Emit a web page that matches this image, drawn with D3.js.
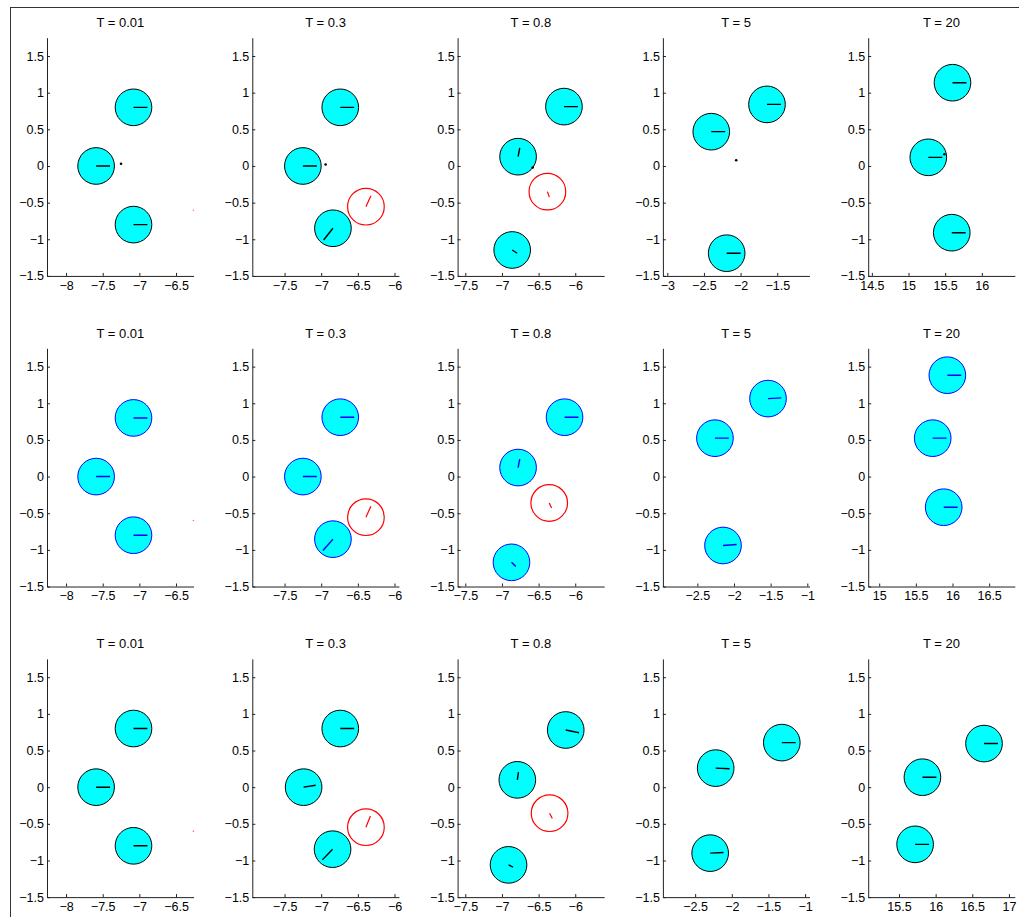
<!DOCTYPE html>
<html><head><meta charset="utf-8">
<script src="https://cdn.jsdelivr.net/npm/d3@7"></script>
<style>
body{margin:0;background:#fff}
svg{display:block}
text{font-family:"Liberation Sans",Arial,Helvetica,sans-serif;fill:#000}
</style>
</head><body><svg id="chart" width="1019" height="917"></svg>
<script>
// ---------- data ----------
const titles = ["T = 0.01", "T = 0.3", "T = 0.8", "T = 5", "T = 20"];
const yDomain = [-1.5, 1.75];
const yTicks = [-1.5, -1, -0.5, 0, 0.5, 1, 1.5];

const xDomainsRow1 = [[-8.26, -6.26], [-7.94, -5.94], [-7.605, -5.605], [-3.06, -1.06], [14.45, 16.45]];
const xDomainsRow2 = [[-8.26, -6.26], [-7.94, -5.94], [-7.605, -5.605], [-2.97, -0.97], [14.85, 16.85]];
const xDomainsRow3 = [[-8.26, -6.26], [-7.94, -5.94], [-7.605, -5.605], [-2.94, -0.94], [15.08, 17.08]];

const xTicksRow1 = [[-8, -7.5, -7, -6.5], [-7.5, -7, -6.5, -6], [-7.5, -7, -6.5, -6], [-3, -2.5, -2, -1.5], [14.5, 15, 15.5, 16]];
const xTicksRow2 = [[-8, -7.5, -7, -6.5], [-7.5, -7, -6.5, -6], [-7.5, -7, -6.5, -6], [-2.5, -2, -1.5, -1], [15, 15.5, 16, 16.5]];
const xTicksRow3 = [[-8, -7.5, -7, -6.5], [-7.5, -7, -6.5, -6], [-7.5, -7, -6.5, -6], [-2.5, -2, -1.5, -1], [15.5, 16, 16.5, 17]];

// agents: [x, y, headingX, headingY]
const agentsRow1 = [
  [[-7.08, 0.80, 0.19, 0], [-7.59, 0, 0.19, 0], [-7.08, -0.80, 0.19, 0]],
  [[-6.74, 0.80, 0.19, 0], [-7.25, 0, 0.19, 0], [-6.84, -0.85, -0.127, -0.16]],
  [[-6.154, 0.81, 0.19, 0], [-6.78, 0.127, 0.023, 0.119], [-6.86, -1.146, 0.068, -0.045]],
  [[-1.64, 0.84, 0.19, 0], [-2.40, 0.468, 0.19, 0], [-2.19, -1.19, 0.19, 0]],
  [[15.60, 1.136, 0.19, 0], [15.27, 0.118, 0.19, 0], [15.59, -0.91, 0.19, 0]]
];
const agentsRow2 = [
  [[-7.08, 0.80, 0.19, 0], [-7.59, 0, 0.19, 0], [-7.08, -0.80, 0.19, 0]],
  [[-6.74, 0.81, 0.19, 0], [-7.25, 0, 0.19, 0], [-6.84, -0.854, -0.136, -0.155]],
  [[-6.146, 0.81, 0.19, 0], [-6.78, 0.123, 0.023, 0.114], [-6.87, -1.17, 0.059, -0.055]],
  [[-1.536, 1.064, 0.182, 0.009], [-2.26, 0.524, 0.19, 0], [-2.15, -0.94, 0.186, 0.014]],
  [[15.93, 1.383, 0.19, 0], [15.73, 0.524, 0.19, 0], [15.88, -0.418, 0.19, 0]]
];
const agentsRow3 = [
  [[-7.08, 0.80, 0.19, 0], [-7.59, 0, 0.19, 0], [-7.08, -0.80, 0.19, 0]],
  [[-6.74, 0.80, 0.19, 0], [-7.24, 0, 0.164, 0.027], [-6.845, -0.846, -0.139, -0.146]],
  [[-6.13, 0.78, 0.181, -0.037], [-6.79, 0.10, 0.015, 0.105], [-6.91, -1.06, 0.061, -0.031]],
  [[-1.318, 0.608, 0.19, 0], [-2.22, 0.26, 0.19, -0.009], [-2.295, -0.90, 0.182, 0.009]],
  [[16.66, 0.595, 0.19, 0], [15.82, 0.136, 0.19, 0], [15.72, -0.78, 0.19, 0]]
];

// target (red circle): [x, y, headingX, headingY] or null
const targetsRow1 = [null, [-6.39, -0.555, 0.068, 0.15], [-6.38, -0.35, 0.027, -0.075], null, null];
const targetsRow2 = [null, [-6.39, -0.554, 0.068, 0.15], [-6.355, -0.36, 0.032, -0.068], null, null];
const targetsRow3 = [null, [-6.39, -0.546, 0.061, 0.154], [-6.35, -0.355, 0.037, -0.072], null, null];

// faint red marker at the plot edge (first column): [x, y]
const edgeMarks = [[-6.262, -0.605], [-6.262, -0.60], [-6.262, -0.60]];

// small black points (row 1 only): [x, y]
const pointsRow1 = [[-7.25, 0.03], [-6.94, 0.02], [-6.58, -0.02], [-2.06, 0.078], [15.49, 0.16]];

const agentRadius = 0.25;

// ---------- layout ----------
const rows = [
  {domains: xDomainsRow1, ticks: xTicksRow1, agents: agentsRow1, targets: targetsRow1, points: pointsRow1, color: "#000000"},
  {domains: xDomainsRow2, ticks: xTicksRow2, agents: agentsRow2, targets: targetsRow2, points: null, color: "#0000ff"},
  {domains: xDomainsRow3, ticks: xTicksRow3, agents: agentsRow3, targets: targetsRow3, points: null, color: "#000000"}
];

const svg = d3.select("#chart");
const unitPx = 73.3;
const plotW = 2 * unitPx;
const plotH = (yDomain[1] - yDomain[0]) * unitPx;
const left0 = 47, colStep = 205.3;
const top0 = 37.7, rowStep = 310.6;
const fmt = d => d3.format("")(d).replace("-", "\u2212");

// figure frame lines
svg.append("line").attr("x1", 10).attr("x2", 1019).attr("y1", 7.5).attr("y2", 7.5)
  .attr("stroke", "#333").attr("stroke-width", 1);
svg.append("line").attr("x1", 10.5).attr("x2", 10.5).attr("y1", 7).attr("y2", 917)
  .attr("stroke", "#333").attr("stroke-width", 1);

rows.forEach((row, ri) => {
  for (let ci = 0; ci < 5; ci++) {
    const ox = left0 + ci * colStep;
    const oy = top0 + ri * rowStep;
    const x = d3.scaleLinear().domain(row.domains[ci]).range([0, plotW]);
    const y = d3.scaleLinear().domain(yDomain).range([plotH, 0]);
    const g = svg.append("g").attr("transform", `translate(${ox},${oy})`);
    const clipId = `clip-${ri}-${ci}`;
    g.append("clipPath").attr("id", clipId).append("rect")
      .attr("x", 0).attr("y", 0).attr("width", plotW).attr("height", plotH);

    // axes
    const yAxis = d3.axisLeft(y).tickValues(yTicks).tickFormat(fmt)
      .tickSizeInner(-3).tickSizeOuter(0).tickPadding(3);
    const xAxis = d3.axisBottom(x).tickValues(row.ticks[ci]).tickFormat(fmt)
      .tickSizeInner(-3).tickSizeOuter(0).tickPadding(5);
    const ya = g.append("g").call(yAxis);
    const xa = g.append("g").attr("transform", `translate(0,${plotH})`).call(xAxis);
    [ya, xa].forEach(a => {
      a.select(".domain").attr("stroke", "#222").attr("stroke-width", 1);
      a.selectAll(".tick line").attr("stroke", "#222");
      a.selectAll(".tick text").attr("font-size", 12.5).attr("fill", "#000")
        .attr("font-family", '"Liberation Sans",Arial,sans-serif');
    });

    // title
    g.append("text").attr("x", plotW / 2).attr("y", -10.5)
      .attr("text-anchor", "middle").attr("font-size", 13).text(titles[ci]);

    const pg = g.append("g").attr("clip-path", `url(#${clipId})`);

    // agents
    const ag = pg.selectAll("g.agent").data(row.agents[ci]).join("g").attr("class", "agent");
    ag.append("circle")
      .attr("cx", d => x(d[0])).attr("cy", d => y(d[1]))
      .attr("r", x(row.domains[ci][0] + agentRadius) - x(row.domains[ci][0]))
      .attr("fill", "#00ffff").attr("stroke", row.color).attr("stroke-width", 1);
    ag.append("line")
      .attr("x1", d => x(d[0])).attr("y1", d => y(d[1]))
      .attr("x2", d => x(d[0] + d[2])).attr("y2", d => y(d[1] + d[3]))
      .attr("stroke", row.color).attr("stroke-width", 1.4);

    // target
    const t = row.targets[ci];
    if (t) {
      pg.append("circle").attr("cx", x(t[0])).attr("cy", y(t[1]))
        .attr("r", x(row.domains[ci][0] + agentRadius) - x(row.domains[ci][0]))
        .attr("fill", "none").attr("stroke", "#ff0000").attr("stroke-width", 1.2);
      pg.append("line").attr("x1", x(t[0])).attr("y1", y(t[1]))
        .attr("x2", x(t[0] + t[2])).attr("y2", y(t[1] + t[3]))
        .attr("stroke", "#ff0000").attr("stroke-width", 1.2);
    }
    if (ci === 0) {
      const e = edgeMarks[ri];
      g.append("circle").attr("cx", x(e[0])).attr("cy", y(e[1])).attr("r", 0.8)
        .attr("fill", "#ff7070");
    }

    // points
    if (row.points) {
      const p = row.points[ci];
      pg.append("circle").attr("cx", x(p[0])).attr("cy", y(p[1])).attr("r", 1.3).attr("fill", "#000");
    }
  }
});
</script>
</body></html>
